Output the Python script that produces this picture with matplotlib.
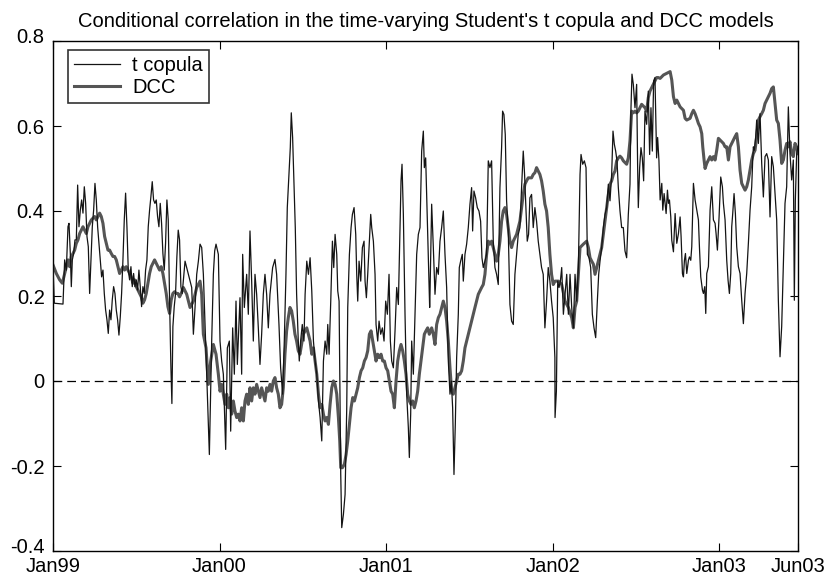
import matplotlib
matplotlib.use("Agg")
import matplotlib.pyplot as plt
import matplotlib.transforms as mtransforms

# ============ data: decimal year -> conditional correlation ============
# ---- t copula ----
tcop_year_99 = [
 1999.000, 1999.008, 1999.060, 1999.070, 1999.080, 1999.090, 1999.096, 1999.104, 1999.110, 1999.116,
 1999.124, 1999.132, 1999.140, 1999.148, 1999.156, 1999.164, 1999.172, 1999.180, 1999.188, 1999.196,
 1999.204, 1999.212, 1999.220, 1999.228, 1999.236, 1999.244, 1999.252, 1999.260, 1999.268, 1999.276,
 1999.284, 1999.292, 1999.300, 1999.308, 1999.316, 1999.324, 1999.332, 1999.340, 1999.348, 1999.356,
 1999.364, 1999.372, 1999.380, 1999.388, 1999.396, 1999.404, 1999.412, 1999.420, 1999.428, 1999.436,
 1999.444, 1999.452, 1999.460, 1999.468, 1999.476, 1999.484, 1999.492, 1999.500, 1999.508, 1999.516,
 1999.524, 1999.532, 1999.540, 1999.548, 1999.556, 1999.564, 1999.572, 1999.580, 1999.588, 1999.596,
 1999.604, 1999.612, 1999.620, 1999.628, 1999.636, 1999.644, 1999.652, 1999.660, 1999.668, 1999.676,
 1999.684, 1999.692, 1999.700, 1999.708, 1999.714, 1999.720, 1999.728, 1999.736, 1999.744, 1999.752,
 1999.760, 1999.768, 1999.776,
]
tcop_val_99 = [
 0.270, 0.183, 0.181, 0.285, 0.261, 0.363, 0.371, 0.300, 0.222, 0.285,
 0.300, 0.332, 0.332, 0.461, 0.363, 0.402, 0.426, 0.395, 0.457, 0.418,
 0.340, 0.316, 0.206, 0.285, 0.363, 0.402, 0.465, 0.426, 0.363, 0.324,
 0.285, 0.245, 0.261, 0.206, 0.167, 0.144, 0.112, 0.167, 0.144, 0.191,
 0.222, 0.206, 0.167, 0.144, 0.108, 0.151, 0.206, 0.285, 0.379, 0.442,
 0.363, 0.261, 0.238, 0.269, 0.222, 0.253, 0.222, 0.238, 0.214, 0.261,
 0.222, 0.175, 0.222, 0.206, 0.261, 0.285, 0.363, 0.402, 0.434, 0.469,
 0.426, 0.418, 0.426, 0.387, 0.363, 0.418, 0.371, 0.300, 0.261, 0.324,
 0.426, 0.379, 0.191, 0.034, -0.053, 0.128, 0.175, 0.206, 0.293, 0.355,
 0.332, 0.222, 0.206,
]
tcop_year_00 = [
 1999.793, 1999.813, 1999.833, 1999.843, 1999.853, 1999.863, 1999.873, 1999.883, 1999.893, 1999.903,
 1999.913, 1999.923, 1999.939, 1999.953, 1999.963, 1999.971, 1999.979, 1999.993, 2000.003, 2000.013,
 2000.023, 2000.037, 2000.047, 2000.059, 2000.067, 2000.079, 2000.089, 2000.099, 2000.107, 2000.123,
 2000.133, 2000.139, 2000.149, 2000.163, 2000.173, 2000.183, 2000.193, 2000.203, 2000.213, 2000.223,
 2000.233, 2000.243, 2000.253, 2000.263, 2000.273, 2000.283, 2000.293, 2000.303, 2000.319, 2000.333,
 2000.343, 2000.357, 2000.367, 2000.379, 2000.389, 2000.399, 2000.407, 2000.417, 2000.425, 2000.431,
 2000.439, 2000.447, 2000.455, 2000.463, 2000.473, 2000.479, 2000.487, 2000.497, 2000.507,
]
tcop_val_00 = [
 0.282, 0.251, 0.220, 0.110, 0.173, 0.251, 0.282, 0.322, 0.314, 0.251,
 0.133, 0.016, -0.173, 0.094, 0.251, 0.306, 0.322, 0.298, 0.094, 0.047,
 0.016, -0.161, 0.078, 0.094, -0.118, 0.125, 0.016, 0.188, 0.039, 0.196,
 0.016, 0.298, 0.173, 0.251, 0.157, 0.353, 0.235, 0.094, 0.251, 0.204,
 0.125, 0.039, 0.110, 0.204, 0.251, 0.204, 0.125, 0.204, 0.267, 0.286,
 0.251, 0.133, 0.031, -0.031, 0.094, 0.251, 0.408, 0.486, 0.549, 0.631,
 0.573, 0.471, 0.361, 0.204, 0.094, 0.047, 0.094, 0.133, 0.094,
]
tcop_year_01 = [
 2000.514, 2000.524, 2000.534, 2000.544, 2000.554, 2000.564, 2000.574, 2000.584, 2000.594, 2000.604,
 2000.614, 2000.624, 2000.634, 2000.644, 2000.650, 2000.658, 2000.668, 2000.678, 2000.686, 2000.694,
 2000.704, 2000.710, 2000.718, 2000.722, 2000.728, 2000.734, 2000.744, 2000.754, 2000.764, 2000.770,
 2000.780, 2000.790, 2000.798, 2000.808, 2000.818, 2000.824, 2000.830, 2000.838, 2000.848, 2000.858,
 2000.868, 2000.874, 2000.882, 2000.890, 2000.900, 2000.908, 2000.914, 2000.924, 2000.934, 2000.940,
 2000.950, 2000.958, 2000.968, 2000.978, 2000.988, 2000.998, 2001.008, 2001.018, 2001.026, 2001.034,
 2001.044, 2001.054, 2001.064, 2001.074, 2001.084, 2001.090, 2001.096, 2001.104, 2001.114, 2001.124,
 2001.134, 2001.140, 2001.148, 2001.154, 2001.164, 2001.174, 2001.184, 2001.194, 2001.204, 2001.214,
 2001.224, 2001.230, 2001.238, 2001.246, 2001.254, 2001.262,
]
tcop_val_01 = [
 0.204, 0.282, 0.251, 0.290, 0.212, 0.094, 0.047, 0.016, -0.047, -0.086,
 -0.141, 0.047, 0.094, 0.063, 0.133, 0.063, 0.188, 0.329, 0.267, 0.345,
 0.298, 0.212, 0.188, 0.016, -0.220, -0.345, -0.314, -0.267, -0.063, 0.173,
 0.298, 0.361, 0.392, 0.408, 0.345, 0.251, 0.188, 0.282, 0.235, 0.314,
 0.329, 0.235, 0.196, 0.251, 0.329, 0.392, 0.361, 0.329, 0.251, 0.133,
 0.094, 0.141, 0.110, 0.125, 0.094, 0.188, 0.157, 0.251, 0.094, 0.047,
 0.031, 0.118, 0.220, 0.180, 0.361, 0.471, 0.510, 0.392, 0.157, -0.031,
 -0.110, -0.180, -0.078, 0.094, 0.016, 0.157, 0.298, 0.345, 0.361, 0.541,
 0.588, 0.502, 0.525, 0.408, 0.298, 0.173,
]
tcop_year_02 = [
 2001.264, 2001.274, 2001.284, 2001.294, 2001.304, 2001.314, 2001.324, 2001.334, 2001.344, 2001.354,
 2001.364, 2001.374, 2001.384, 2001.392, 2001.400, 2001.408, 2001.416, 2001.424, 2001.434, 2001.440,
 2001.448, 2001.458, 2001.464, 2001.474, 2001.484, 2001.494, 2001.504, 2001.514, 2001.520, 2001.528,
 2001.538, 2001.548, 2001.558, 2001.568, 2001.576, 2001.584, 2001.594, 2001.604, 2001.614, 2001.624,
 2001.634, 2001.644, 2001.654, 2001.664, 2001.674, 2001.684, 2001.694, 2001.700, 2001.708, 2001.716,
 2001.724, 2001.734, 2001.744, 2001.754, 2001.764, 2001.774, 2001.784, 2001.794, 2001.804, 2001.814,
 2001.824, 2001.832, 2001.840, 2001.848, 2001.856, 2001.864, 2001.874, 2001.884, 2001.894, 2001.904,
 2001.914, 2001.924, 2001.934, 2001.944, 2001.954, 2001.964, 2001.974, 2001.984, 2001.994, 2002.004,
 2002.014,
]
tcop_val_02 = [
 0.204, 0.416, 0.314, 0.204, 0.267, 0.251, 0.329, 0.361, 0.400, 0.298,
 0.220, 0.047, -0.031, 0.000, -0.063, -0.220, -0.102, 0.055, 0.157, 0.267,
 0.282, 0.298, 0.235, 0.298, 0.322, 0.361, 0.416, 0.455, 0.353, 0.447,
 0.431, 0.408, 0.400, 0.376, 0.290, 0.267, 0.282, 0.298, 0.518, 0.502,
 0.518, 0.329, 0.267, 0.251, 0.227, 0.455, 0.549, 0.635, 0.627, 0.580,
 0.424, 0.353, 0.180, 0.141, 0.133, 0.251, 0.298, 0.345, 0.361, 0.455,
 0.541, 0.486, 0.408, 0.329, 0.345, 0.431, 0.439, 0.361, 0.408, 0.376,
 0.329, 0.298, 0.267, 0.251, 0.125, 0.188, 0.267, 0.235, 0.188, 0.149,
 0.055,
]
tcop_year_03 = [
 2002.015, 2002.023, 2002.031, 2002.039, 2002.047, 2002.055, 2002.065, 2002.075, 2002.085, 2002.095,
 2002.105, 2002.115, 2002.125, 2002.135, 2002.145, 2002.155, 2002.165, 2002.171, 2002.181, 2002.191,
 2002.201, 2002.209, 2002.219, 2002.229, 2002.239, 2002.249, 2002.259, 2002.269, 2002.277, 2002.285,
 2002.295, 2002.305, 2002.315, 2002.325, 2002.335, 2002.345, 2002.355, 2002.363, 2002.371, 2002.379,
 2002.387, 2002.395, 2002.405, 2002.415, 2002.425, 2002.435, 2002.445, 2002.455, 2002.465, 2002.471,
 2002.477, 2002.485, 2002.495, 2002.505, 2002.511, 2002.515, 2002.523, 2002.531, 2002.539, 2002.547,
 2002.555, 2002.565, 2002.575, 2002.583, 2002.591, 2002.599, 2002.607, 2002.615, 2002.625, 2002.631,
 2002.639,
]
tcop_val_03 = [
 -0.086, -0.024, 0.235, 0.220, 0.235, 0.267, 0.157, 0.204, 0.251, 0.157,
 0.251, 0.173, 0.125, 0.251, 0.188, 0.267, 0.486, 0.533, 0.510, 0.518,
 0.502, 0.298, 0.290, 0.267, 0.157, 0.125, 0.102, 0.188, 0.251, 0.282,
 0.314, 0.361, 0.392, 0.408, 0.463, 0.424, 0.486, 0.588, 0.557, 0.541,
 0.518, 0.455, 0.400, 0.361, 0.361, 0.306, 0.290, 0.392, 0.463, 0.643,
 0.722, 0.698, 0.643, 0.698, 0.502, 0.408, 0.502, 0.549, 0.525, 0.471,
 0.635, 0.604, 0.682, 0.533, 0.643, 0.541, 0.706, 0.714, 0.525, 0.573,
 0.518,
]
tcop_year_04 = [
 2002.646, 2002.656, 2002.662, 2002.670, 2002.676, 2002.682, 2002.690, 2002.696, 2002.702, 2002.710,
 2002.716, 2002.726, 2002.736, 2002.746, 2002.756, 2002.766, 2002.772, 2002.780, 2002.786, 2002.792,
 2002.798, 2002.806, 2002.816, 2002.822, 2002.830, 2002.836, 2002.846, 2002.856, 2002.866, 2002.876,
 2002.882, 2002.890, 2002.900, 2002.906, 2002.914, 2002.920, 2002.926, 2002.936, 2002.946, 2002.956,
 2002.966, 2002.976, 2002.982, 2002.990, 2003.000, 2003.010, 2003.020, 2003.026, 2003.036, 2003.046,
 2003.054, 2003.062, 2003.070, 2003.076, 2003.082, 2003.090, 2003.098, 2003.106, 2003.116, 2003.126,
 2003.136, 2003.146, 2003.156, 2003.166, 2003.176, 2003.186, 2003.196, 2003.202, 2003.206, 2003.212,
 2003.220, 2003.226, 2003.236, 2003.246, 2003.256, 2003.266, 2003.276, 2003.286, 2003.296, 2003.306,
 2003.316, 2003.326, 2003.336, 2003.346, 2003.356, 2003.366, 2003.376, 2003.386, 2003.396, 2003.406,
 2003.416, 2003.426, 2003.436, 2003.446, 2003.452, 2003.458, 2003.466, 2003.474,
]
tcop_val_04 = [
 0.426, 0.465, 0.402, 0.441, 0.418, 0.394, 0.449, 0.418, 0.426, 0.386,
 0.331, 0.304, 0.394, 0.324, 0.347, 0.386, 0.339, 0.253, 0.245, 0.284,
 0.300, 0.253, 0.284, 0.292, 0.284, 0.316, 0.465, 0.426, 0.402, 0.379,
 0.316, 0.245, 0.214, 0.206, 0.222, 0.159, 0.253, 0.269, 0.402, 0.457,
 0.379, 0.371, 0.347, 0.308, 0.386, 0.480, 0.457, 0.418, 0.379, 0.284,
 0.237, 0.206, 0.253, 0.363, 0.394, 0.441, 0.394, 0.316, 0.269, 0.253,
 0.190, 0.135, 0.206, 0.253, 0.324, 0.402, 0.457, 0.520, 0.551, 0.543,
 0.575, 0.614, 0.559, 0.629, 0.512, 0.433, 0.528, 0.535, 0.520, 0.386,
 0.528, 0.504, 0.441, 0.379, 0.190, 0.057, 0.128, 0.269, 0.418, 0.457,
 0.645, 0.535, 0.473, 0.520, 0.190, 0.426, 0.535, 0.551,
]

# ---- DCC ----
dcc_year_99 = [
 1999.000, 1999.020, 1999.040, 1999.056, 1999.070, 1999.080, 1999.090, 1999.100, 1999.110, 1999.120,
 1999.130, 1999.140, 1999.150, 1999.160, 1999.170, 1999.180, 1999.190, 1999.200, 1999.210, 1999.220,
 1999.230, 1999.240, 1999.250, 1999.260, 1999.270, 1999.280, 1999.290, 1999.300, 1999.310, 1999.320,
 1999.330, 1999.340, 1999.350, 1999.360, 1999.370, 1999.380, 1999.390, 1999.400, 1999.410, 1999.420,
 1999.430, 1999.440, 1999.450, 1999.460, 1999.470, 1999.480, 1999.490, 1999.500, 1999.510, 1999.520,
 1999.530, 1999.540, 1999.550, 1999.560, 1999.570, 1999.580, 1999.590, 1999.600, 1999.610, 1999.620,
 1999.630, 1999.640, 1999.650, 1999.660, 1999.670, 1999.680, 1999.690, 1999.700, 1999.710, 1999.720,
 1999.730, 1999.740, 1999.750, 1999.760, 1999.770,
]
dcc_val_99 = [
 0.273, 0.253, 0.238, 0.230, 0.253, 0.269, 0.285, 0.269, 0.293, 0.300,
 0.308, 0.324, 0.332, 0.347, 0.355, 0.363, 0.355, 0.347, 0.363, 0.371,
 0.379, 0.383, 0.387, 0.379, 0.387, 0.395, 0.387, 0.371, 0.340, 0.324,
 0.308, 0.308, 0.300, 0.293, 0.293, 0.285, 0.269, 0.253, 0.261, 0.269,
 0.261, 0.269, 0.261, 0.253, 0.245, 0.230, 0.238, 0.222, 0.214, 0.206,
 0.198, 0.183, 0.191, 0.206, 0.230, 0.253, 0.269, 0.277, 0.285, 0.277,
 0.269, 0.261, 0.269, 0.253, 0.230, 0.206, 0.175, 0.159, 0.191, 0.206,
 0.210, 0.206, 0.206, 0.198, 0.206,
]
dcc_year_00 = [
 1999.783, 1999.803, 1999.823, 1999.843, 1999.863, 1999.883, 1999.893, 1999.903, 1999.919, 1999.933,
 1999.947, 1999.963, 1999.979, 1999.993, 2000.003, 2000.013, 2000.023, 2000.033, 2000.043, 2000.053,
 2000.063, 2000.073, 2000.083, 2000.093, 2000.103, 2000.113, 2000.123, 2000.133, 2000.143, 2000.153,
 2000.163, 2000.173, 2000.183, 2000.193, 2000.203, 2000.213, 2000.223, 2000.233, 2000.243, 2000.253,
 2000.263, 2000.273, 2000.283, 2000.293, 2000.303, 2000.313, 2000.323, 2000.333, 2000.343, 2000.353,
 2000.363, 2000.373, 2000.383, 2000.393, 2000.403, 2000.413, 2000.423, 2000.433, 2000.443, 2000.453,
 2000.463, 2000.473, 2000.483, 2000.493, 2000.503,
]
dcc_val_00 = [
 0.220, 0.204, 0.173, 0.188, 0.220, 0.235, 0.204, 0.110, 0.078, -0.008,
 0.047, 0.086, 0.063, 0.016, -0.024, -0.008, -0.031, -0.055, -0.031, -0.063,
 -0.039, -0.078, -0.047, -0.071, -0.086, -0.078, -0.094, -0.063, -0.094, -0.047,
 -0.031, -0.055, -0.016, -0.047, -0.016, -0.031, -0.008, -0.024, -0.039, -0.016,
 -0.031, -0.047, -0.016, -0.024, -0.008, -0.024, 0.000, 0.008, -0.016, -0.031,
 -0.063, -0.055, -0.016, 0.063, 0.118, 0.149, 0.173, 0.165, 0.141, 0.110,
 0.094, 0.071, 0.063, 0.086, 0.110,
]
dcc_year_01 = [
 2000.514, 2000.524, 2000.534, 2000.544, 2000.554, 2000.564, 2000.574, 2000.584, 2000.594, 2000.604,
 2000.614, 2000.624, 2000.634, 2000.644, 2000.654, 2000.664, 2000.674, 2000.684, 2000.694, 2000.704,
 2000.714, 2000.722, 2000.728, 2000.738, 2000.750, 2000.760, 2000.770, 2000.780, 2000.790, 2000.800,
 2000.810, 2000.820, 2000.830, 2000.840, 2000.850, 2000.860, 2000.870, 2000.880, 2000.890, 2000.900,
 2000.910, 2000.920, 2000.930, 2000.940, 2000.950, 2000.960, 2000.970, 2000.980, 2000.990, 2001.000,
 2001.010, 2001.020, 2001.030, 2001.040, 2001.050, 2001.060, 2001.070, 2001.080, 2001.090, 2001.100,
 2001.110, 2001.120, 2001.130, 2001.140, 2001.150, 2001.160, 2001.170, 2001.180, 2001.190, 2001.200,
 2001.210, 2001.220, 2001.230, 2001.240, 2001.250, 2001.260,
]
dcc_val_01 = [
 0.118, 0.125, 0.110, 0.094, 0.063, 0.078, 0.047, 0.016, -0.031, -0.063,
 -0.055, -0.078, -0.094, -0.086, -0.102, -0.055, -0.016, 0.000, -0.008, -0.031,
 -0.086, -0.141, -0.204, -0.204, -0.196, -0.173, -0.141, -0.102, -0.063, -0.039,
 -0.047, -0.031, -0.016, 0.008, 0.024, 0.031, 0.047, 0.055, 0.071, 0.110,
 0.118, 0.094, 0.071, 0.047, 0.063, 0.055, 0.063, 0.047, 0.047, 0.031,
 0.024, 0.000, -0.024, -0.031, -0.063, 0.000, 0.047, 0.071, 0.086, 0.071,
 0.047, 0.016, -0.031, -0.047, -0.055, -0.047, -0.063, -0.047, -0.024, 0.016,
 0.047, 0.078, 0.110, 0.118, 0.125, 0.110,
]
dcc_year_02 = [
 2001.274, 2001.284, 2001.294, 2001.304, 2001.314, 2001.324, 2001.334, 2001.344, 2001.354,
 2001.364, 2001.374, 2001.384, 2001.394, 2001.404, 2001.414, 2001.424, 2001.434, 2001.444, 2001.454,
 2001.464, 2001.474, 2001.484, 2001.494, 2001.504, 2001.514, 2001.524, 2001.534, 2001.544, 2001.554,
 2001.564, 2001.574, 2001.584, 2001.594, 2001.604, 2001.614, 2001.624, 2001.634, 2001.644, 2001.654,
 2001.664, 2001.674, 2001.684, 2001.694, 2001.704, 2001.714, 2001.724, 2001.734, 2001.744, 2001.754,
 2001.764, 2001.774, 2001.784, 2001.794, 2001.804, 2001.814, 2001.824, 2001.834, 2001.844, 2001.854,
 2001.864, 2001.874, 2001.884, 2001.894, 2001.904, 2001.914, 2001.924, 2001.934, 2001.944, 2001.954,
 2001.964, 2001.974, 2001.984, 2001.994, 2002.004,
]
dcc_val_02 = [
 0.125, 0.110, 0.086, 0.133, 0.149, 0.157, 0.173, 0.188, 0.173,
 0.141, 0.094, 0.031, -0.024, -0.031, -0.016, 0.000, 0.016, 0.016, 0.024,
 0.047, 0.078, 0.094, 0.110, 0.125, 0.141, 0.157, 0.173, 0.188, 0.204,
 0.212, 0.220, 0.227, 0.251, 0.298, 0.329, 0.322, 0.329, 0.314, 0.298,
 0.282, 0.298, 0.329, 0.376, 0.400, 0.408, 0.392, 0.361, 0.329, 0.314,
 0.329, 0.337, 0.345, 0.361, 0.376, 0.408, 0.439, 0.463, 0.471, 0.478,
 0.478, 0.478, 0.486, 0.490, 0.502, 0.494, 0.486, 0.471, 0.447, 0.416,
 0.400, 0.361, 0.298, 0.251, 0.227,
]
dcc_year_03 = [
 2002.015, 2002.035, 2002.055, 2002.075, 2002.095, 2002.115, 2002.125, 2002.135, 2002.145, 2002.155,
 2002.165, 2002.185, 2002.205, 2002.215, 2002.225, 2002.235, 2002.245, 2002.255, 2002.265, 2002.275,
 2002.285, 2002.295, 2002.305, 2002.315, 2002.325, 2002.335, 2002.345, 2002.355, 2002.365, 2002.375,
 2002.385, 2002.395, 2002.405, 2002.415, 2002.425, 2002.435, 2002.445, 2002.455, 2002.465, 2002.475,
 2002.485, 2002.495, 2002.505, 2002.515, 2002.525, 2002.535, 2002.545, 2002.555, 2002.565, 2002.575,
 2002.585, 2002.595, 2002.605, 2002.615, 2002.625, 2002.635,
]
dcc_val_03 = [
 0.235, 0.235, 0.227, 0.188, 0.173, 0.149, 0.125, 0.173, 0.188, 0.251,
 0.314, 0.322, 0.329, 0.314, 0.290, 0.282, 0.275, 0.251, 0.267, 0.282,
 0.298, 0.314, 0.345, 0.376, 0.408, 0.439, 0.463, 0.471, 0.486, 0.494,
 0.518, 0.525, 0.529, 0.525, 0.518, 0.514, 0.510, 0.525, 0.565, 0.635,
 0.631, 0.635, 0.631, 0.635, 0.643, 0.651, 0.647, 0.643, 0.635, 0.667,
 0.682, 0.690, 0.698, 0.706, 0.714, 0.714,
]
dcc_year_04 = [
 2002.646, 2002.666, 2002.686, 2002.706, 2002.716, 2002.726, 2002.736, 2002.746, 2002.756, 2002.766,
 2002.786, 2002.796, 2002.806, 2002.826, 2002.836, 2002.846, 2002.856, 2002.866, 2002.876, 2002.886,
 2002.896, 2002.902, 2002.910, 2002.916, 2002.926, 2002.936, 2002.946, 2002.956, 2002.966, 2002.976,
 2002.986, 2002.996, 2003.006, 2003.016, 2003.026, 2003.036, 2003.046, 2003.056, 2003.066, 2003.076,
 2003.086, 2003.096, 2003.106, 2003.116, 2003.126, 2003.136, 2003.146, 2003.156, 2003.166, 2003.176,
 2003.186, 2003.196, 2003.206, 2003.216, 2003.226, 2003.236, 2003.246, 2003.256, 2003.266, 2003.276,
 2003.286, 2003.296, 2003.306, 2003.316, 2003.326, 2003.336, 2003.346, 2003.356, 2003.366, 2003.376,
 2003.386, 2003.396, 2003.406, 2003.416, 2003.426, 2003.436, 2003.446, 2003.456, 2003.466, 2003.474,
]
dcc_val_04 = [
 0.712, 0.720, 0.724, 0.728, 0.708, 0.669, 0.653, 0.661, 0.653, 0.645,
 0.637, 0.618, 0.614, 0.618, 0.629, 0.637, 0.629, 0.618, 0.606, 0.598,
 0.582, 0.551, 0.520, 0.500, 0.512, 0.520, 0.528, 0.520, 0.528, 0.520,
 0.543, 0.571, 0.567, 0.563, 0.559, 0.551, 0.551, 0.520, 0.551, 0.559,
 0.567, 0.575, 0.582, 0.551, 0.496, 0.465, 0.457, 0.449, 0.457, 0.473,
 0.496, 0.520, 0.535, 0.543, 0.575, 0.614, 0.622, 0.629, 0.637, 0.653,
 0.661, 0.669, 0.677, 0.688, 0.692, 0.653, 0.614, 0.606, 0.567, 0.512,
 0.520, 0.543, 0.559, 0.551, 0.563, 0.535, 0.528, 0.559, 0.551, 0.535,
]

tick_years = [1999.0, 2000.0, 2001.0, 2002.0, 2003.0, 2003.474]
tick_labels = ["Jan99", "Jan00", "Jan01", "Jan02", "Jan03", "Jun03"]
ytick_vals = [-0.4, -0.2, 0.0, 0.2, 0.4, 0.6, 0.8]
ytick_labels = ["-0.4", "-0.2", "0", "0.2", "0.4", "0.6", "0.8"]
series_names = ["t copula", "DCC"]
title = "Conditional correlation in the time-varying Student's t copula and DCC models"

tcop_year = tcop_year_99 + tcop_year_00 + tcop_year_01 + tcop_year_02 + tcop_year_03 + tcop_year_04
tcop_val = tcop_val_99 + tcop_val_00 + tcop_val_01 + tcop_val_02 + tcop_val_03 + tcop_val_04
dcc_year = dcc_year_99 + dcc_year_00 + dcc_year_01 + dcc_year_02 + dcc_year_03 + dcc_year_04
dcc_val = dcc_val_99 + dcc_val_00 + dcc_val_01 + dcc_val_02 + dcc_val_03 + dcc_val_04

# ============ figure ============
plt.rcParams["font.family"] = ["Liberation Sans", "DejaVu Sans"]
FS = 14.5
W, H = 827, 575
fig = plt.figure(figsize=(W / 100, H / 100), dpi=100)
ax = fig.add_axes([53 / W, 1 - 551 / H, (798 - 53) / W, (551 - 41) / H])

ax.plot(tcop_year, tcop_val, color="#141414", lw=0.9, label=series_names[0], zorder=3)
ax.plot(dcc_year, dcc_val, color="#555555", lw=2.2, label=series_names[1], zorder=2)
ax.axhline(0, color="black", lw=0.9, ls=(0, (7, 4)), zorder=1)

ax.set_xlim(tick_years[0], tick_years[-1])
ax.set_ylim(ytick_vals[0], ytick_vals[-1])
ax.set_xticks(tick_years)
ax.set_xticklabels(tick_labels)
ax.set_yticks(ytick_vals)
ax.set_yticklabels(ytick_labels)
ax.tick_params(direction="in", length=5.5, width=0.8, top=True, right=True,
               labelsize=FS, colors="black")
ax.tick_params(axis="x", pad=4)
ax.tick_params(axis="y", pad=6)
for s in ax.spines.values():
    s.set_linewidth(1.0)
    s.set_color("black")

# nudge the extreme y labels a little, as in the reference
ylabs = ax.get_yticklabels()
ylabs[0].set_transform(ylabs[0].get_transform() +
                       mtransforms.ScaledTranslation(0, 4 / 72, fig.dpi_scale_trans))
ylabs[-1].set_transform(ylabs[-1].get_transform() +
                        mtransforms.ScaledTranslation(0, 4 / 72, fig.dpi_scale_trans))

ax.set_title(title, fontsize=FS, pad=10)

leg = ax.legend(loc="upper left", bbox_to_anchor=(68 / W, 1 - 50 / H),
                bbox_transform=fig.transFigure, borderaxespad=0,
                fontsize=FS, frameon=True, fancybox=False, handlelength=2.3,
                handletextpad=0.6, borderpad=0.3, labelspacing=0.15)
leg.get_frame().set_edgecolor("black")
leg.get_frame().set_linewidth(1.2)

fig.savefig("out.png", dpi=100)
